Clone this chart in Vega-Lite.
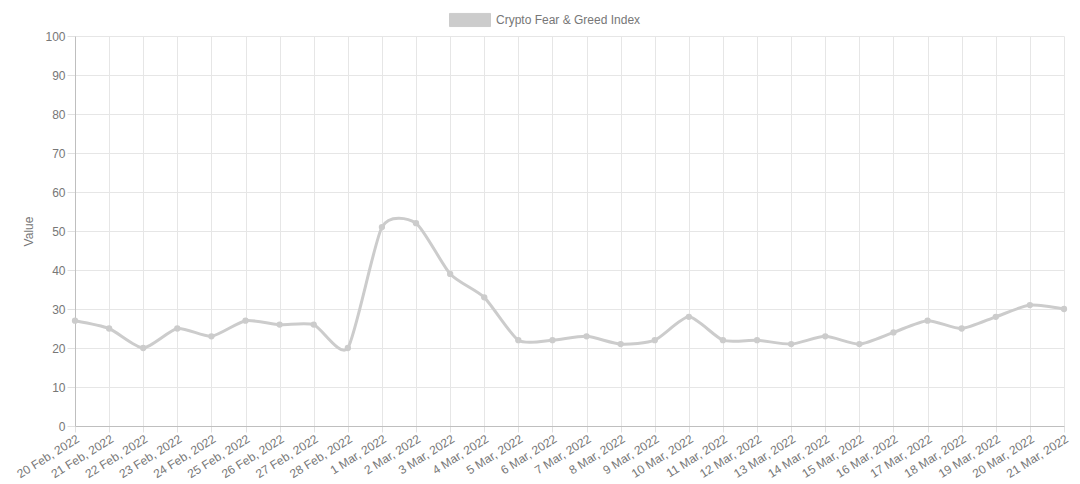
{
  "$schema": "https://vega.github.io/schema/vega-lite/v6.json",
  "width": 989,
  "height": 390,
  "autosize": {"type": "none"},
  "padding": {"left": 75, "top": 36, "right": 16, "bottom": 58},
  "background": "white",
  "config": {
    "font": "Liberation Sans",
    "view": {"stroke": null},
    "axis": {
      "labelFont": "Liberation Sans",
      "labelFontSize": 12,
      "labelColor": "#777777",
      "titleFont": "Liberation Sans",
      "titleFontSize": 12,
      "titleFontWeight": "normal",
      "titleColor": "#777777",
      "gridColor": "#e6e6e6",
      "gridWidth": 1,
      "tickColor": "#e0e0e0",
      "domainColor": "#bfbfbf",
      "domainWidth": 1
    }
  },
  "data": {
    "values": [
      {"date": "20 Feb, 2022", "value": 27},
      {"date": "21 Feb, 2022", "value": 25},
      {"date": "22 Feb, 2022", "value": 20},
      {"date": "23 Feb, 2022", "value": 25},
      {"date": "24 Feb, 2022", "value": 23},
      {"date": "25 Feb, 2022", "value": 27},
      {"date": "26 Feb, 2022", "value": 26},
      {"date": "27 Feb, 2022", "value": 26},
      {"date": "28 Feb, 2022", "value": 20},
      {"date": "1 Mar, 2022", "value": 51},
      {"date": "2 Mar, 2022", "value": 52},
      {"date": "3 Mar, 2022", "value": 39},
      {"date": "4 Mar, 2022", "value": 33},
      {"date": "5 Mar, 2022", "value": 22},
      {"date": "6 Mar, 2022", "value": 22},
      {"date": "7 Mar, 2022", "value": 23},
      {"date": "8 Mar, 2022", "value": 21},
      {"date": "9 Mar, 2022", "value": 22},
      {"date": "10 Mar, 2022", "value": 28},
      {"date": "11 Mar, 2022", "value": 22},
      {"date": "12 Mar, 2022", "value": 22},
      {"date": "13 Mar, 2022", "value": 21},
      {"date": "14 Mar, 2022", "value": 23},
      {"date": "15 Mar, 2022", "value": 21},
      {"date": "16 Mar, 2022", "value": 24},
      {"date": "17 Mar, 2022", "value": 27},
      {"date": "18 Mar, 2022", "value": 25},
      {"date": "19 Mar, 2022", "value": 28},
      {"date": "20 Mar, 2022", "value": 31},
      {"date": "21 Mar, 2022", "value": 30}
    ]
  },
  "mark": {
    "type": "line",
    "interpolate": "cardinal",
    "tension": 0.35,
    "strokeWidth": 3,
    "point": {"filled": true, "size": 40, "color": "#c9c9c9"}
  },
  "encoding": {
    "x": {
      "field": "date",
      "type": "ordinal",
      "sort": null,
      "scale": {"type": "point", "padding": 0},
      "axis": {
        "title": null,
        "labelAngle": -32,
        "labelAlign": "right",
        "labelBaseline": "top",
        "labelPadding": 1,
        "labelDx": -2,
        "tickSize": 6,
        "grid": true,
        "labelOverlap": false
      }
    },
    "y": {
      "field": "value",
      "type": "quantitative",
      "scale": {"domain": [0, 100], "nice": false, "zero": true},
      "axis": {
        "title": "Value",
        "values": [0, 10, 20, 30, 40, 50, 60, 70, 80, 90, 100],
        "tickSize": 8,
        "labelPadding": 2,
        "titlePadding": 9,
        "grid": true
      }
    },
    "color": {
      "datum": "Crypto Fear & Greed Index",
      "type": "nominal",
      "scale": {"range": ["#cccccc"]},
      "legend": {
        "title": null,
        "orient": "none",
        "legendX": 374,
        "legendY": -37,
        "padding": 0,
        "symbolType": "M-1,-0.32H1V0.32H-1Z",
        "symbolSize": 1681,
        "symbolFillColor": "#cccccc",
        "symbolStrokeColor": "#c4c4c4",
        "symbolStrokeWidth": 1,
        "labelOffset": 5,
        "labelFont": "Liberation Sans",
        "labelFontSize": 12,
        "labelColor": "#777777"
      }
    }
  }
}
